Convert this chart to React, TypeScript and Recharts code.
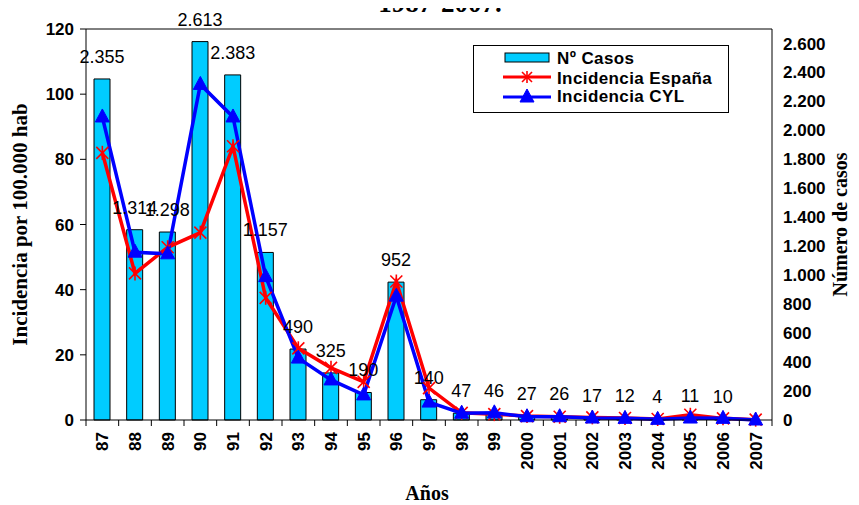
import { ComposedChart, Bar, Line, XAxis, YAxis, ReferenceLine, LabelList, Legend } from 'recharts'

const years = ['87', '88', '89', '90', '91', '92', '93', '94', '95', '96', '97', '98', '99', '2000', '2001', '2002', '2003', '2004', '2005', '2006', '2007']
const casos = [2355, 1314, 1298, 2613, 2383, 1157, 490, 325, 190, 952, 140, 47, 46, 27, 26, 17, 12, 4, 11, 10, 0]
const incEspana = [82, 45, 53, 57.5, 84, 37.5, 22, 16, 11.7, 42.5, 9.8, 2.2, 1.8, 1.2, 1.0, 0.8, 0.6, 0.3, 1.6, 0.5, 0.1]
const incCyl = [93, 51.5, 51, 103, 93, 44, 19, 12.3, 7.7, 38, 5.5, 2.1, 2.2, 1.0, 1.0, 0.6, 0.5, 0.2, 0.6, 0.5, 0]
const leftTicks = [0, 20, 40, 60, 80, 100, 120]
const rightTicks = [0, 200, 400, 600, 800, 1000, 1200, 1400, 1600, 1800, 2000, 2200, 2400, 2600]

const SANS = '"Liberation Sans", Arial, sans-serif'
const SERIF = '"Liberation Serif", "Times New Roman", serif'
const CYAN = '#00CCFF'
const RED = '#FF0000'
const BLUE = '#0000FF'

// spanish thousands separator
const fmt = (n: number) => String(n).replace(/\B(?=(\d{3})+(?!\d))/g, '.')

const data = years.map((y, i) => ({
  year: y,
  casos: casos[i],
  espana: incEspana[i],
  cyl: incCyl[i],
}))

function StarMark({ cx, cy, r = 6 }: any) {
  if (cx == null || cy == null) return null
  return (
    <g stroke={RED} strokeWidth={1.6}>
      <line x1={cx - r} y1={cy - r} x2={cx + r} y2={cy + r} />
      <line x1={cx - r} y1={cy + r} x2={cx + r} y2={cy - r} />
      <line x1={cx} y1={cy - r - 1} x2={cx} y2={cy + r + 1} />
    </g>
  )
}

function TriMark({ cx, cy }: any) {
  if (cx == null || cy == null) return null
  return <path d={`M${cx},${cy - 8} L${cx + 7},${cy + 5} L${cx - 7},${cy + 5} Z`} fill={BLUE} stroke={BLUE} />
}

function YearTick(props: any) {
  const { x, y, payload, index, visibleTicksCount, width } = props
  const n = visibleTicksCount || years.length
  const band = (width || 686) / n
  return (
    <g>
      <line x1={x - band / 2} y1={y} x2={x - band / 2} y2={y + 6} stroke="#000" />
      {index === n - 1 && <line x1={x + band / 2} y1={y} x2={x + band / 2} y2={y + 6} stroke="#000" />}
      <text
        x={x}
        y={y + 12}
        dy={6}
        transform={`rotate(-90, ${x}, ${y + 12})`}
        textAnchor="end"
        fontFamily={SANS}
        fontWeight="bold"
        fontSize={17}
        fill="#000"
      >
        {payload.value}
      </text>
    </g>
  )
}

function LegendBox() {
  return (
    <svg width={256} height={68} style={{ display: 'block' }}>
      <rect x={0.5} y={0.5} width={255} height={67} fill="#fff" stroke="#000" />
      <rect x={32} y={8} width={44} height={9} fill={CYAN} stroke="#000" />
      <line x1={30} x2={78} y1={32} y2={32} stroke={RED} strokeWidth={3} />
      <StarMark cx={54} cy={32} r={5} />
      <line x1={30} x2={78} y1={52} y2={52} stroke={BLUE} strokeWidth={3} />
      <TriMark cx={54} cy={52} />
      <g fontFamily={SANS} fontWeight="bold" fontSize={17} fill="#000" letterSpacing={0.4}>
        <text x={84} y={19}>Nº Casos</text>
        <text x={84} y={39}>Incidencia España</text>
        <text x={84} y={57}>Incidencia CYL</text>
      </g>
    </svg>
  )
}

const axisTitle = { fontFamily: SERIF, fontWeight: 'bold', fontSize: 20, fill: '#000' }

export default function App() {
  return (
    <div style={{ position: 'relative', width: 859, height: 505, margin: '-8px 0 0 -8px', background: '#fff' }}>
      <svg width={859} height={20} style={{ position: 'absolute', left: 0, top: 0 }}>
        <text x={440} y={12} textAnchor="middle" fontFamily={SERIF} fontWeight="bold" fontSize={27} fill="#000">
          1987-2007.
        </text>
      </svg>
      <ComposedChart width={859} height={505} data={data} margin={{ top: 29, right: 0, left: 0, bottom: 0 }}>
        <XAxis
          dataKey="year"
          height={85}
          axisLine={{ stroke: '#000' }}
          tickLine={false}
          tickSize={0}
          tickMargin={0}
          interval={0}
          tick={<YearTick />}
          label={{
            content: (p: any) => {
              const vb = p.viewBox || { x: 86, y: 420, width: 686, height: 85 }
              return (
                <text x={vb.x + vb.width / 2 - 2} y={vb.y + 80} textAnchor="middle" {...axisTitle}>
                  Años
                </text>
              )
            },
          }}
        />
        <YAxis
          yAxisId="left"
          width={86}
          domain={[0, 120]}
          ticks={leftTicks}
          interval={0}
          axisLine={{ stroke: '#000' }}
          tickLine={{ stroke: '#000' }}
          tickSize={6}
          tickMargin={6}
          tick={{ fontFamily: SANS, fontWeight: 'bold', fontSize: 17, fill: '#000' }}
          label={{
            content: (p: any) => {
              const vb = p.viewBox || { x: 0, y: 29, width: 86, height: 391 }
              const cx = vb.x + 20
              const cy = vb.y + vb.height / 2
              return (
                <text x={cx} y={cy} transform={`rotate(-90, ${cx}, ${cy})`} textAnchor="middle" dominantBaseline="central" {...axisTitle} fontSize={21}>
                  Incidencia por 100.000 hab
                </text>
              )
            },
          }}
        />
        <YAxis
          yAxisId="right"
          orientation="right"
          width={87}
          domain={[0, 2700]}
          ticks={rightTicks}
          interval={0}
          axisLine={{ stroke: '#000' }}
          tickLine={false}
          tickSize={0}
          tickMargin={11}
          tickFormatter={fmt}
          tick={{ fontFamily: SANS, fontWeight: 'bold', fontSize: 17, fill: '#000' }}
          label={{
            content: (p: any) => {
              const vb = p.viewBox || { x: 772, y: 29, width: 87, height: 391 }
              const cx = vb.x + 68
              const cy = vb.y + vb.height / 2
              return (
                <text x={cx} y={cy} transform={`rotate(-90, ${cx}, ${cy})`} textAnchor="middle" dominantBaseline="central" {...axisTitle}>
                  Número de casos
                </text>
              )
            },
          }}
        />
        <ReferenceLine yAxisId="left" y={120} stroke="#000" />
        <Legend
          layout="vertical"
          align="center"
          verticalAlign="middle"
          wrapperStyle={{ left: 473, top: 45, width: 256, height: 68 }}
          content={() => <LegendBox />}
        />
        <Bar yAxisId="right" dataKey="casos" name="Nº Casos" barSize={16} fill={CYAN} stroke="#000" strokeWidth={1} isAnimationActive={false}>
          <LabelList
            dataKey="casos"
            position="top"
            offset={16}
            formatter={(v: any) => fmt(Number(v))}
            style={{ fontFamily: SANS, fontSize: 18, fill: '#000' }}
          />
        </Bar>
        <Line
          yAxisId="left"
          dataKey="espana"
          name="Incidencia España"
          stroke={RED}
          strokeWidth={3.5}
          dot={(p: any) => <StarMark key={`s${p.index}`} cx={p.cx} cy={p.cy} />}
          activeDot={false}
          isAnimationActive={false}
        />
        <Line
          yAxisId="left"
          dataKey="cyl"
          name="Incidencia CYL"
          stroke={BLUE}
          strokeWidth={3.5}
          dot={(p: any) => <TriMark key={`t${p.index}`} cx={p.cx} cy={p.cy} />}
          activeDot={false}
          isAnimationActive={false}
        />
      </ComposedChart>
    </div>
  )
}
